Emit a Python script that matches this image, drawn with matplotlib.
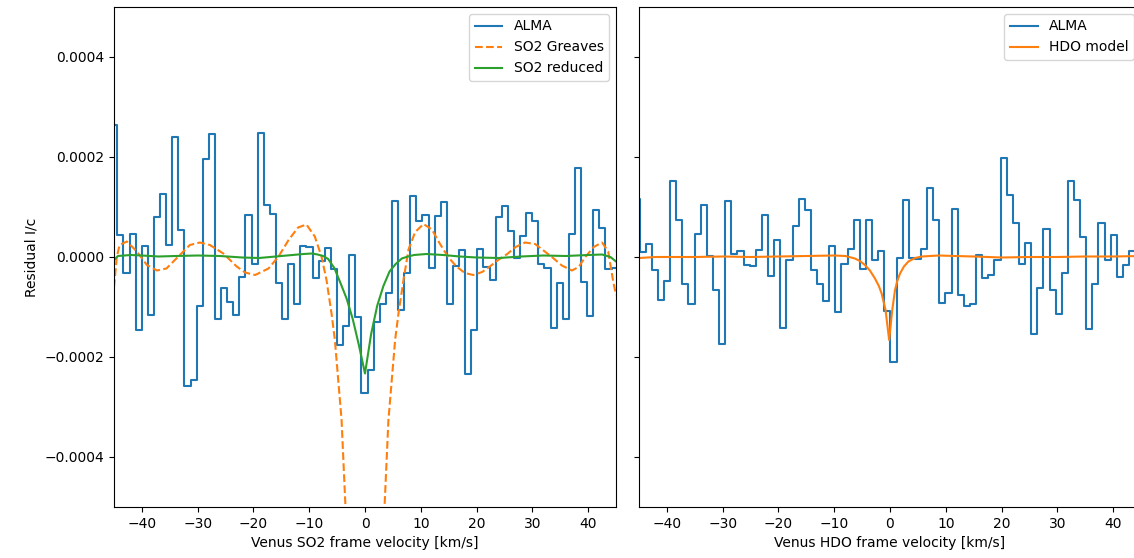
import numpy as np
import matplotlib
matplotlib.use("Agg")
import matplotlib.pyplot as plt

# ---------------- data (residuals in units of 1e-4) ----------------
# SO2 panel: ALMA channels (centres start, spacing in km/s)
so2_v0, so2_dv = -44.95, 1.094
alma_so2 = [2.64, 0.44, -0.31, 0.47, -1.46, 0.22, -1.16, 0.81, 1.27, 0.24,
            2.41, 0.55, -2.58, -2.46, -0.98, 1.97, 2.46, -1.23, -0.61, -0.89,
            -1.16, -0.39, 0.85, -0.13, 2.49, 1.04, 0.87, -0.51, -1.23, -0.14,
            -0.94, 0.23, 0.21, -0.42, -0.07, 0.19, -0.23, -1.76, -1.37, 0.04,
            -1.19, -2.71, -2.26, -1.30, -0.93, -0.72, 1.13, -1.06, -0.32, 1.23,
            0.73, 0.84, -0.21, 0.82, 1.11, -0.93, -0.17, 0.14, -2.33, -1.46,
            0.16, -0.20, -0.46, 0.81, 1.02, 0.52, -0.01, 0.43, 0.89, 0.73,
            -0.13, -0.21, -1.41, -0.51, -1.23, 0.46, 1.79, -0.49, -1.18, 0.95,
            0.59, -0.24, -0.21, -0.20]

greaves_v = [-45, -44.5, -44, -42.7, -40.9, -39.1, -37.3, -35.6, -33.2, -31.4,
             -29.6, -27.8, -25.4, -23.0, -21.5, -19.7, -17.3, -15.5, -13.7, -12.0,
             -10.5, -9.0, -7.8, -6.9, -6.0, -5.4, -4.8, -4.2, -3.5, -2.5,
             -1.2, 0, 1.2, 2.5, 3.5, 4.2, 4.8, 5.4, 6.0, 6.9,
             7.8, 9.0, 10.5, 12.0, 13.4, 14.9, 16.4, 17.9, 19.4, 21.0,
             22.5, 24.0, 25.5, 27.0, 28.7, 30.5, 32.0, 33.5, 35.3, 37.1,
             38.3, 39.5, 41.0, 42.5, 43.6, 44.5, 45]
greaves_y = [-0.6, 0.0, 0.24, 0.31, 0.11, -0.16, -0.27, -0.23, 0.04, 0.24,
             0.29, 0.24, 0.07, -0.19, -0.31, -0.36, -0.23, 0.01, 0.34, 0.59,
             0.65, 0.41, 0.01, -0.46, -1.13, -1.66, -2.46, -3.26, -5.0, -8.0,
             -11.0, -12.0, -11.0, -8.0, -5.0, -3.26, -2.46, -1.66, -1.13, -0.46,
             0.15, 0.5, 0.66, 0.55, 0.27, 0.0, -0.19, -0.32, -0.36, -0.3,
             -0.18, -0.05, 0.06, 0.2, 0.29, 0.26, 0.13, 0.0, -0.17, -0.27,
             -0.2, 0.0, 0.2, 0.29, 0.11, -0.49, -0.76]

reduced_v = [-45, -44.3, -42, -40, -37, -34, -30, -26, -22, -19,
             -16, -13, -11, -9.5, -8.5, -7.5, -6.6, -5.5, -4.4, -3.3,
             -2.2, -1.1, 0, 1.1, 2.2, 3.3, 4.4, 5.5, 6.6, 7.7,
             8.8, 11, 14, 17, 20, 24, 28, 32, 36, 40,
             42.5, 44, 45]
reduced_y = [-0.06, 0.02, 0.04, 0.03, 0.01, 0.02, 0.03, 0.02, -0.01, -0.02,
             0.01, 0.04, 0.06, 0.07, 0.05, 0.02, -0.04, -0.22, -0.52, -0.83,
             -1.24, -1.76, -2.33, -1.54, -0.97, -0.58, -0.29, -0.14, -0.03, 0.01,
             0.04, 0.06, 0.04, 0.01, -0.01, -0.02, 0.01, 0.03, 0.02, 0.04,
             0.05, 0.0, -0.09]

# HDO panel
hdo_v0, hdo_dv = -45.45, 1.097
alma_hdo = [1.17, 0.11, 0.27, -0.26, -0.86, -0.48, 1.52, 0.74, -0.54, -0.94,
            0.46, 1.04, 0.02, -0.65, -1.73, 1.12, 0.07, 0.12, -0.15, -0.18,
            0.15, 0.85, -0.37, 0.34, -1.41, -0.05, 0.63, 1.17, 0.94, -0.26,
            -0.54, -0.87, 0.23, -1.09, -0.13, 0.17, 0.75, -0.24, 0.74, -0.05,
            0.13, -1.08, -2.09, -0.01, 1.14, -0.01, -0.03, 0.16, 1.39, 0.75,
            -0.91, -0.71, 0.97, -0.76, -0.97, -0.93, 0.05, -0.41, -0.36, -0.06,
            1.99, 1.24, 0.69, -0.13, 0.29, -1.53, -0.61, 0.57, -0.66, -1.14,
            -0.31, 1.53, 1.14, 0.41, -1.44, -0.53, 0.69, -0.05, 0.45, -0.39,
            -0.15, 0.12, 0.30]

hdo_model_v = [-45, -42, -35, -30, -25, -20, -15, -10, -8, -6.3,
               -5.4, -4.5, -3.6, -2.7, -2.0, -1.5, -0.8, -0.15, 0.4, 0.9,
               1.3, 1.8, 2.5, 3.3, 4.5, 5.7, 8.7, 11.7, 15, 20,
               25, 30, 35, 40, 45]
hdo_model_y = [-0.02, 0.0, 0.0, 0.01, 0.0, 0.01, 0.02, 0.03, 0.02, -0.03,
               -0.08, -0.16, -0.27, -0.43, -0.58, -0.73, -1.06, -1.66, -1.06, -0.66,
               -0.48, -0.33, -0.19, -0.09, -0.02, 0.01, 0.03, 0.02, 0.01, -0.01,
               0.0, 0.0, 0.01, 0.01, 0.02]

yticks = [-0.0004, -0.0002, 0.0, 0.0002, 0.0004]
xticks = [-40, -30, -20, -10, 0, 10, 20, 30, 40]

scale = 1e-4
so2_v = so2_v0 + so2_dv * np.arange(len(alma_so2))
hdo_v = hdo_v0 + hdo_dv * np.arange(len(alma_hdo))

# ---------------- figure ----------------
W, H = 1134, 558
fig = plt.figure(figsize=(W / 100, H / 100), dpi=100)
axw = 502 / W
ax1 = fig.add_axes([114 / W, 51 / H, axw, 500 / H])
ax2 = fig.add_axes([639 / W, 51 / H, axw, 500 / H], sharey=ax1)

ax1.step(so2_v, np.array(alma_so2) * scale, where='mid', color='C0', label='ALMA')
ax1.plot(greaves_v, np.array(greaves_y) * scale, '--', color='C1', label='SO2 Greaves')
ax1.plot(reduced_v, np.array(reduced_y) * scale, '-', color='C2', label='SO2 reduced')
ax1.set_xlim(-45, 45)
ax1.set_ylim(-0.0005, 0.0005)
ax1.set_yticks(yticks)
ax1.set_xticks(xticks)
ax1.set_xlabel('Venus SO2 frame velocity [km/s]')
ax1.set_ylabel('Residual I/c')
ax1.legend(loc='upper right')

ax2.step(hdo_v, np.array(alma_hdo) * scale, where='mid', color='C0', label='ALMA')
ax2.plot(hdo_model_v, np.array(hdo_model_y) * scale, '-', color='C1', label='HDO model')
ax2.set_xlim(-45, 45)
ax2.set_xticks(xticks)
ax2.tick_params(labelleft=False)
ax2.set_xlabel('Venus HDO frame velocity [km/s]')
ax2.legend(loc='upper right')

fig.savefig('out.png', dpi=100)
